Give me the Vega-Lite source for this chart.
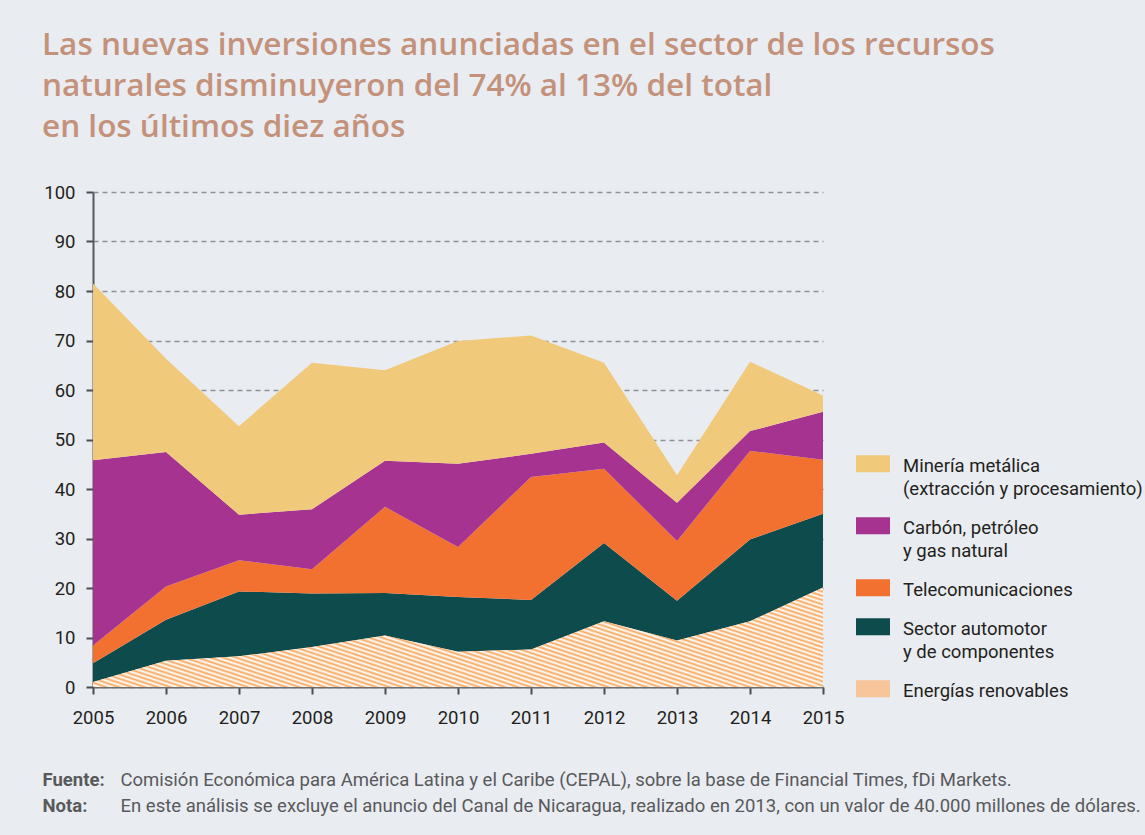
{
  "$schema": "https://vega.github.io/schema/vega-lite/v6.json",
  "autosize": {"type": "none"},
  "padding": {"left": 93, "top": 192, "right": 322, "bottom": 148},
  "width": 730,
  "height": 495,
  "background": "#e9ecf1",
  "title": {
    "text": ["Las nuevas inversiones anunciadas en el sector de los recursos", "naturales disminuyeron del 74% al 13% del total", "en los últimos diez años"],
    "anchor": "start",
    "frame": "group",
    "dx": -51,
    "offset": 40,
    "font": "Open Sans",
    "fontSize": 31.5,
    "fontWeight": 600,
    "lineHeight": 41,
    "color": "#c4927b"
  },
  "data": {
    "values": [
      {"año": 2005, "sector": "Energías renovables", "valor": 1.0},
      {"año": 2006, "sector": "Energías renovables", "valor": 5.3},
      {"año": 2007, "sector": "Energías renovables", "valor": 6.2},
      {"año": 2008, "sector": "Energías renovables", "valor": 8.1},
      {"año": 2009, "sector": "Energías renovables", "valor": 10.4},
      {"año": 2010, "sector": "Energías renovables", "valor": 7.1},
      {"año": 2011, "sector": "Energías renovables", "valor": 7.6},
      {"año": 2012, "sector": "Energías renovables", "valor": 13.3},
      {"año": 2013, "sector": "Energías renovables", "valor": 9.4},
      {"año": 2014, "sector": "Energías renovables", "valor": 13.3},
      {"año": 2015, "sector": "Energías renovables", "valor": 20.1},
      {"año": 2005, "sector": "Sector automotor\ny de componentes", "valor": 3.8},
      {"año": 2006, "sector": "Sector automotor\ny de componentes", "valor": 8.3},
      {"año": 2007, "sector": "Sector automotor\ny de componentes", "valor": 13.1},
      {"año": 2008, "sector": "Sector automotor\ny de componentes", "valor": 10.8},
      {"año": 2009, "sector": "Sector automotor\ny de componentes", "valor": 8.6},
      {"año": 2010, "sector": "Sector automotor\ny de componentes", "valor": 11.1},
      {"año": 2011, "sector": "Sector automotor\ny de componentes", "valor": 10.0},
      {"año": 2012, "sector": "Sector automotor\ny de componentes", "valor": 15.8},
      {"año": 2013, "sector": "Sector automotor\ny de componentes", "valor": 8.0},
      {"año": 2014, "sector": "Sector automotor\ny de componentes", "valor": 16.5},
      {"año": 2015, "sector": "Sector automotor\ny de componentes", "valor": 14.9},
      {"año": 2005, "sector": "Telecomunicaciones", "valor": 3.6},
      {"año": 2006, "sector": "Telecomunicaciones", "valor": 6.7},
      {"año": 2007, "sector": "Telecomunicaciones", "valor": 6.3},
      {"año": 2008, "sector": "Telecomunicaciones", "valor": 4.9},
      {"año": 2009, "sector": "Telecomunicaciones", "valor": 17.4},
      {"año": 2010, "sector": "Telecomunicaciones", "valor": 10.1},
      {"año": 2011, "sector": "Telecomunicaciones", "valor": 24.8},
      {"año": 2012, "sector": "Telecomunicaciones", "valor": 15.0},
      {"año": 2013, "sector": "Telecomunicaciones", "valor": 12.1},
      {"año": 2014, "sector": "Telecomunicaciones", "valor": 17.9},
      {"año": 2015, "sector": "Telecomunicaciones", "valor": 10.9},
      {"año": 2005, "sector": "Carbón, petróleo\ny gas natural", "valor": 37.4},
      {"año": 2006, "sector": "Carbón, petróleo\ny gas natural", "valor": 27.2},
      {"año": 2007, "sector": "Carbón, petróleo\ny gas natural", "valor": 9.2},
      {"año": 2008, "sector": "Carbón, petróleo\ny gas natural", "valor": 12.1},
      {"año": 2009, "sector": "Carbón, petróleo\ny gas natural", "valor": 9.3},
      {"año": 2010, "sector": "Carbón, petróleo\ny gas natural", "valor": 16.8},
      {"año": 2011, "sector": "Carbón, petróleo\ny gas natural", "valor": 4.7},
      {"año": 2012, "sector": "Carbón, petróleo\ny gas natural", "valor": 5.3},
      {"año": 2013, "sector": "Carbón, petróleo\ny gas natural", "valor": 7.7},
      {"año": 2014, "sector": "Carbón, petróleo\ny gas natural", "valor": 4.0},
      {"año": 2015, "sector": "Carbón, petróleo\ny gas natural", "valor": 9.7},
      {"año": 2005, "sector": "Minería metálica\n(extracción y procesamiento)", "valor": 35.7},
      {"año": 2006, "sector": "Minería metálica\n(extracción y procesamiento)", "valor": 18.8},
      {"año": 2007, "sector": "Minería metálica\n(extracción y procesamiento)", "valor": 17.9},
      {"año": 2008, "sector": "Minería metálica\n(extracción y procesamiento)", "valor": 29.6},
      {"año": 2009, "sector": "Minería metálica\n(extracción y procesamiento)", "valor": 18.3},
      {"año": 2010, "sector": "Minería metálica\n(extracción y procesamiento)", "valor": 24.8},
      {"año": 2011, "sector": "Minería metálica\n(extracción y procesamiento)", "valor": 23.9},
      {"año": 2012, "sector": "Minería metálica\n(extracción y procesamiento)", "valor": 16.1},
      {"año": 2013, "sector": "Minería metálica\n(extracción y procesamiento)", "valor": 5.6},
      {"año": 2014, "sector": "Minería metálica\n(extracción y procesamiento)", "valor": 14.0},
      {"año": 2015, "sector": "Minería metálica\n(extracción y procesamiento)", "valor": 3.3}
    ]
  },
  "transform": [
    {"calculate": "indexof(['Energías','Sector','Telecomunicaciones','Carbón,','Minería'], split(datum.sector, ' ')[0])", "as": "orden"}
  ],
  "encoding": {
    "x": {
      "field": "año",
      "type": "quantitative",
      "scale": {"domain": [2005, 2015], "nice": false, "zero": false},
      "axis": {
        "values": [2005, 2006, 2007, 2008, 2009, 2010, 2011, 2012, 2013, 2014, 2015],
        "format": "d",
        "grid": false,
        "domain": true,
        "domainColor": "#6d6e71",
        "domainWidth": 2,
        "ticks": true,
        "tickColor": "#4d4d4f",
        "tickWidth": 2,
        "tickSize": 7,
        "labelPadding": 14,
        "labelFont": "Roboto",
        "labelFontSize": 18.5,
        "labelColor": "#231f20",
        "labelFlush": false,
        "title": ["Comisión Económica para América Latina y el Caribe (CEPAL), sobre la base de Financial Times, fDi Markets.", "En este análisis se excluye el anuncio del Canal de Nicaragua, realizado en 2013, con un valor de 40.000 millones de dólares."],
        "titleX": 27,
        "titleY": 98,
        "titleAlign": "left",
        "titleAnchor": "start",
        "titleBaseline": "alphabetic",
        "titleFont": "Roboto",
        "titleFontSize": 18.5,
        "titleFontWeight": "normal",
        "titleColor": "#58595b",
        "titleLineHeight": 26
      }
    },
    "y": {
      "field": "valor",
      "type": "quantitative",
      "scale": {"domain": [0, 100], "nice": false},
      "axis": {
        "values": [0, 10, 20, 30, 40, 50, 60, 70, 80, 90, 100],
        "grid": true,
        "gridDash": [5, 4],
        "gridColor": "#8e9399",
        "gridWidth": 1.6,
        "domain": true,
        "domainColor": "#58595b",
        "domainWidth": 2,
        "ticks": true,
        "tickColor": "#4d4d4f",
        "tickWidth": 2,
        "tickSize": 7,
        "labelPadding": 11,
        "labelFont": "Roboto",
        "labelFontSize": 18.5,
        "labelColor": "#231f20",
        "labelFlush": false,
        "title": ["Fuente:", "Nota:"],
        "titleX": -51,
        "titleY": 593,
        "titleAngle": 0,
        "titleAlign": "left",
        "titleBaseline": "alphabetic",
        "titleFont": "Roboto",
        "titleFontSize": 18.5,
        "titleFontWeight": "bold",
        "titleColor": "#58595b",
        "titleLineHeight": 26
      }
    }
  },
  "layer": [
    {
      "mark": {"type": "area", "interpolate": "linear"},
      "encoding": {
        "color": {
          "field": "sector",
          "type": "nominal",
          "scale": {
            "domain": ["Minería metálica\n(extracción y procesamiento)", "Carbón, petróleo\ny gas natural", "Telecomunicaciones", "Sector automotor\ny de componentes", "Energías renovables"],
            "range": ["#f0c97b", "#a5338f", "#f27130", "#0e4b4c", "#f8c49a"]
          },
          "legend": {
            "orient": "none",
            "legendX": 763,
            "legendY": 248,
            "title": null,
            "padding": 0,
            "symbolType": "M-1,-0.1H1V0.9H-1Z",
            "symbolSize": 1156,
            "symbolStrokeWidth": 0,
            "symbolOpacity": 1,
            "labelFont": "Roboto",
            "labelFontSize": 18.5,
            "labelBaseline": "top",
            "labelColor": "#231f20",
            "labelOffset": 13,
            "labelLimit": 400,
            "labelExpr": "split(datum.label, '\\n')",
            "rowPadding": 3,
            "encode": {
              "symbols": {
                "update": {
                  "fill": {"signal": "datum.value === 'Energías renovables' ? {gradient: 'linear', x1: 0, y1: 1, x2: 0.769, y2: -0.154, stops: [{offset: 0, color: '#f6a85f'}, {offset: 0.0714, color: '#e9ecf1'}, {offset: 0.1429, color: '#f6a85f'}, {offset: 0.2143, color: '#e9ecf1'}, {offset: 0.2857, color: '#f6a85f'}, {offset: 0.3571, color: '#e9ecf1'}, {offset: 0.4286, color: '#f6a85f'}, {offset: 0.5, color: '#e9ecf1'}, {offset: 0.5714, color: '#f6a85f'}, {offset: 0.6429, color: '#e9ecf1'}, {offset: 0.7143, color: '#f6a85f'}, {offset: 0.7857, color: '#e9ecf1'}, {offset: 0.8571, color: '#f6a85f'}, {offset: 0.9286, color: '#e9ecf1'}, {offset: 1, color: '#f6a85f'}]} : scale('color', datum.value)"}
                }
              }
            }
          }
        },
        "order": {"field": "orden", "type": "quantitative"}
      }
    },
    {
      "transform": [{"filter": "datum.sector === 'Energías renovables'"}],
      "mark": {
        "type": "area",
        "interpolate": "linear",
        "color": {
          "gradient": "linear", "x1": 0, "y1": 1, "x2": 1.207, "y2": 0.504,
          "stops": [
            {"offset": 0, "color": "#f6a85f"}, {"offset": 0.00625, "color": "#ffffff"}, {"offset": 0.0125, "color": "#f6a85f"}, {"offset": 0.01875, "color": "#ffffff"},
            {"offset": 0.025, "color": "#f6a85f"}, {"offset": 0.03125, "color": "#ffffff"}, {"offset": 0.0375, "color": "#f6a85f"}, {"offset": 0.04375, "color": "#ffffff"},
            {"offset": 0.05, "color": "#f6a85f"}, {"offset": 0.05625, "color": "#ffffff"}, {"offset": 0.0625, "color": "#f6a85f"}, {"offset": 0.06875, "color": "#ffffff"},
            {"offset": 0.075, "color": "#f6a85f"}, {"offset": 0.08125, "color": "#ffffff"}, {"offset": 0.0875, "color": "#f6a85f"}, {"offset": 0.09375, "color": "#ffffff"},
            {"offset": 0.1, "color": "#f6a85f"}, {"offset": 0.10625, "color": "#ffffff"}, {"offset": 0.1125, "color": "#f6a85f"}, {"offset": 0.11875, "color": "#ffffff"},
            {"offset": 0.125, "color": "#f6a85f"}, {"offset": 0.13125, "color": "#ffffff"}, {"offset": 0.1375, "color": "#f6a85f"}, {"offset": 0.14375, "color": "#ffffff"},
            {"offset": 0.15, "color": "#f6a85f"}, {"offset": 0.15625, "color": "#ffffff"}, {"offset": 0.1625, "color": "#f6a85f"}, {"offset": 0.16875, "color": "#ffffff"},
            {"offset": 0.175, "color": "#f6a85f"}, {"offset": 0.18125, "color": "#ffffff"}, {"offset": 0.1875, "color": "#f6a85f"}, {"offset": 0.19375, "color": "#ffffff"},
            {"offset": 0.2, "color": "#f6a85f"}, {"offset": 0.20625, "color": "#ffffff"}, {"offset": 0.2125, "color": "#f6a85f"}, {"offset": 0.21875, "color": "#ffffff"},
            {"offset": 0.225, "color": "#f6a85f"}, {"offset": 0.23125, "color": "#ffffff"}, {"offset": 0.2375, "color": "#f6a85f"}, {"offset": 0.24375, "color": "#ffffff"},
            {"offset": 0.25, "color": "#f6a85f"}, {"offset": 0.25625, "color": "#ffffff"}, {"offset": 0.2625, "color": "#f6a85f"}, {"offset": 0.26875, "color": "#ffffff"},
            {"offset": 0.275, "color": "#f6a85f"}, {"offset": 0.28125, "color": "#ffffff"}, {"offset": 0.2875, "color": "#f6a85f"}, {"offset": 0.29375, "color": "#ffffff"},
            {"offset": 0.3, "color": "#f6a85f"}, {"offset": 0.30625, "color": "#ffffff"}, {"offset": 0.3125, "color": "#f6a85f"}, {"offset": 0.31875, "color": "#ffffff"},
            {"offset": 0.325, "color": "#f6a85f"}, {"offset": 0.33125, "color": "#ffffff"}, {"offset": 0.3375, "color": "#f6a85f"}, {"offset": 0.34375, "color": "#ffffff"},
            {"offset": 0.35, "color": "#f6a85f"}, {"offset": 0.35625, "color": "#ffffff"}, {"offset": 0.3625, "color": "#f6a85f"}, {"offset": 0.36875, "color": "#ffffff"},
            {"offset": 0.375, "color": "#f6a85f"}, {"offset": 0.38125, "color": "#ffffff"}, {"offset": 0.3875, "color": "#f6a85f"}, {"offset": 0.39375, "color": "#ffffff"},
            {"offset": 0.4, "color": "#f6a85f"}, {"offset": 0.40625, "color": "#ffffff"}, {"offset": 0.4125, "color": "#f6a85f"}, {"offset": 0.41875, "color": "#ffffff"},
            {"offset": 0.425, "color": "#f6a85f"}, {"offset": 0.43125, "color": "#ffffff"}, {"offset": 0.4375, "color": "#f6a85f"}, {"offset": 0.44375, "color": "#ffffff"},
            {"offset": 0.45, "color": "#f6a85f"}, {"offset": 0.45625, "color": "#ffffff"}, {"offset": 0.4625, "color": "#f6a85f"}, {"offset": 0.46875, "color": "#ffffff"},
            {"offset": 0.475, "color": "#f6a85f"}, {"offset": 0.48125, "color": "#ffffff"}, {"offset": 0.4875, "color": "#f6a85f"}, {"offset": 0.49375, "color": "#ffffff"},
            {"offset": 0.5, "color": "#f6a85f"}, {"offset": 0.50625, "color": "#ffffff"}, {"offset": 0.5125, "color": "#f6a85f"}, {"offset": 0.51875, "color": "#ffffff"},
            {"offset": 0.525, "color": "#f6a85f"}, {"offset": 0.53125, "color": "#ffffff"}, {"offset": 0.5375, "color": "#f6a85f"}, {"offset": 0.54375, "color": "#ffffff"},
            {"offset": 0.55, "color": "#f6a85f"}, {"offset": 0.55625, "color": "#ffffff"}, {"offset": 0.5625, "color": "#f6a85f"}, {"offset": 0.56875, "color": "#ffffff"},
            {"offset": 0.575, "color": "#f6a85f"}, {"offset": 0.58125, "color": "#ffffff"}, {"offset": 0.5875, "color": "#f6a85f"}, {"offset": 0.59375, "color": "#ffffff"},
            {"offset": 0.6, "color": "#f6a85f"}, {"offset": 0.60625, "color": "#ffffff"}, {"offset": 0.6125, "color": "#f6a85f"}, {"offset": 0.61875, "color": "#ffffff"},
            {"offset": 0.625, "color": "#f6a85f"}, {"offset": 0.63125, "color": "#ffffff"}, {"offset": 0.6375, "color": "#f6a85f"}, {"offset": 0.64375, "color": "#ffffff"},
            {"offset": 0.65, "color": "#f6a85f"}, {"offset": 0.65625, "color": "#ffffff"}, {"offset": 0.6625, "color": "#f6a85f"}, {"offset": 0.66875, "color": "#ffffff"},
            {"offset": 0.675, "color": "#f6a85f"}, {"offset": 0.68125, "color": "#ffffff"}, {"offset": 0.6875, "color": "#f6a85f"}, {"offset": 0.69375, "color": "#ffffff"},
            {"offset": 0.7, "color": "#f6a85f"}, {"offset": 0.70625, "color": "#ffffff"}, {"offset": 0.7125, "color": "#f6a85f"}, {"offset": 0.71875, "color": "#ffffff"},
            {"offset": 0.725, "color": "#f6a85f"}, {"offset": 0.73125, "color": "#ffffff"}, {"offset": 0.7375, "color": "#f6a85f"}, {"offset": 0.74375, "color": "#ffffff"},
            {"offset": 0.75, "color": "#f6a85f"}, {"offset": 0.75625, "color": "#ffffff"}, {"offset": 0.7625, "color": "#f6a85f"}, {"offset": 0.76875, "color": "#ffffff"},
            {"offset": 0.775, "color": "#f6a85f"}, {"offset": 0.78125, "color": "#ffffff"}, {"offset": 0.7875, "color": "#f6a85f"}, {"offset": 0.79375, "color": "#ffffff"},
            {"offset": 0.8, "color": "#f6a85f"}, {"offset": 0.80625, "color": "#ffffff"}, {"offset": 0.8125, "color": "#f6a85f"}, {"offset": 0.81875, "color": "#ffffff"},
            {"offset": 0.825, "color": "#f6a85f"}, {"offset": 0.83125, "color": "#ffffff"}, {"offset": 0.8375, "color": "#f6a85f"}, {"offset": 0.84375, "color": "#ffffff"},
            {"offset": 0.85, "color": "#f6a85f"}, {"offset": 0.85625, "color": "#ffffff"}, {"offset": 0.8625, "color": "#f6a85f"}, {"offset": 0.86875, "color": "#ffffff"},
            {"offset": 0.875, "color": "#f6a85f"}, {"offset": 0.88125, "color": "#ffffff"}, {"offset": 0.8875, "color": "#f6a85f"}, {"offset": 0.89375, "color": "#ffffff"},
            {"offset": 0.9, "color": "#f6a85f"}, {"offset": 0.90625, "color": "#ffffff"}, {"offset": 0.9125, "color": "#f6a85f"}, {"offset": 0.91875, "color": "#ffffff"},
            {"offset": 0.925, "color": "#f6a85f"}, {"offset": 0.93125, "color": "#ffffff"}, {"offset": 0.9375, "color": "#f6a85f"}, {"offset": 0.94375, "color": "#ffffff"},
            {"offset": 0.95, "color": "#f6a85f"}, {"offset": 0.95625, "color": "#ffffff"}, {"offset": 0.9625, "color": "#f6a85f"}, {"offset": 0.96875, "color": "#ffffff"},
            {"offset": 0.975, "color": "#f6a85f"}, {"offset": 0.98125, "color": "#ffffff"}, {"offset": 0.9875, "color": "#f6a85f"}, {"offset": 0.99375, "color": "#ffffff"},
            {"offset": 1, "color": "#f6a85f"}
          ]
        }
      }
    }
  ],
  "config": {
    "view": {"stroke": null},
    "axis": {"labelFont": "Roboto", "titleFont": "Roboto"},
    "legend": {"labelFont": "Roboto"},
    "style": {"guide-label": {"lineHeight": 23}}
  }
}
